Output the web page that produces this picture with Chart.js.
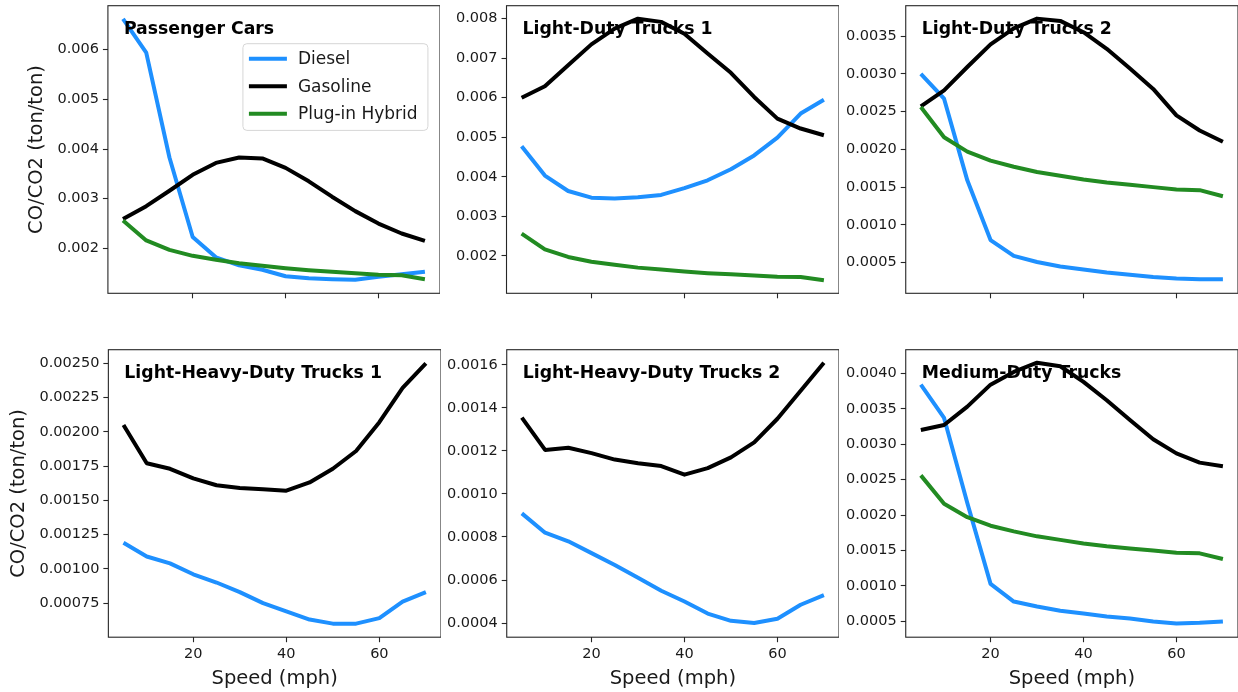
<!DOCTYPE html>
<html><head><meta charset="utf-8">
<script src="https://cdn.jsdelivr.net/npm/chart.js@4.4.1/dist/chart.umd.min.js"></script>
<style>
html,body{margin:0;padding:0;background:#fff;}
body{width:1238px;height:692px;position:relative;overflow:hidden;}
.pw{position:absolute;}
canvas{display:block;}
</style></head><body>
<script>
// ---------- data ----------
const speeds = [5,10,15,20,25,30,35,40,45,50,55,60,65,70];
const xTicks = [20,40,60];

const hybrid = [0.00256,0.00216,0.00197,0.00185,0.00177,0.00170,0.00165,0.00160,0.00156,0.00153,0.00150,0.00147,0.00146,0.00138];

const pcDiesel   = [0.00662,0.00594,0.00383,0.00223,0.00182,0.00166,0.00157,0.00144,0.00140,0.00138,0.00137,0.00143,0.00148,0.00153];
const pcGasoline = [0.00259,0.00285,0.00316,0.00348,0.00372,0.00383,0.00381,0.00362,0.00335,0.00304,0.00275,0.00250,0.00230,0.00215];

const ldt1Diesel   = [0.00477,0.00403,0.00364,0.00347,0.00345,0.00348,0.00354,0.00371,0.00391,0.00419,0.00454,0.00499,0.00560,0.00595];
const ldt1Gasoline = [0.00600,0.00629,0.00682,0.00735,0.00775,0.00800,0.00792,0.00762,0.00712,0.00663,0.00602,0.00547,0.00522,0.00505];

const ldt2Diesel   = [0.00300,0.00267,0.00159,0.00080,0.00059,0.00051,0.00045,0.00041,0.00037,0.00034,0.00031,0.00029,0.00028,0.00028];
const ldt2Gasoline = [0.00257,0.00278,0.00309,0.00339,0.00360,0.00373,0.00370,0.00355,0.00333,0.00307,0.00280,0.00245,0.00225,0.00210];

const lhdt1Diesel   = [0.00119,0.00109,0.00104,0.00096,0.00090,0.00083,0.00075,0.00069,0.00063,0.00060,0.00060,0.00064,0.00076,0.00083];
const lhdt1Gasoline = [0.00205,0.00177,0.00173,0.00166,0.00161,0.00159,0.00158,0.00157,0.00163,0.00173,0.00186,0.00207,0.00232,0.00250];

const lhdt2Diesel   = [0.00091,0.00082,0.00078,0.000725,0.00067,0.00061,0.00055,0.00050,0.000444,0.00041,0.00040,0.00042,0.000485,0.00053];
const lhdt2Gasoline = [0.001355,0.001205,0.001215,0.00119,0.00116,0.001143,0.00113,0.00109,0.00112,0.00117,0.00124,0.00135,0.00148,0.00161];

const mdtDiesel   = [0.00384,0.00337,0.00217,0.00103,0.00078,0.00071,0.00065,0.00061,0.00057,0.00054,0.00050,0.00047,0.00048,0.00050];
const mdtGasoline = [0.00320,0.00327,0.00353,0.00384,0.00402,0.00415,0.00410,0.00388,0.00362,0.00334,0.00307,0.00287,0.00274,0.00269];

const panelTitles = ['Passenger Cars','Light-Duty Trucks 1','Light-Duty Trucks 2','Light-Heavy-Duty Trucks 1','Light-Heavy-Duty Trucks 2','Medium-Duty Trucks'];

const yTicksPC    = [0.002,0.003,0.004,0.005,0.006];
const yTicksLDT1  = [0.002,0.003,0.004,0.005,0.006,0.007,0.008];
const yTicksLDT2  = [0.0005,0.0010,0.0015,0.0020,0.0025,0.0030,0.0035];
const yTicksLHDT1 = [0.00075,0.00100,0.00125,0.00150,0.00175,0.00200,0.00225,0.00250];
const yTicksLHDT2 = [0.0004,0.0006,0.0008,0.0010,0.0012,0.0014,0.0016];
const yTicksMDT   = [0.0005,0.0010,0.0015,0.0020,0.0025,0.0030,0.0035,0.0040];
const yDecimals   = [3,3,4,5,4,4];
const yMins = [0.001096,0.00105,0.000095,0.000501,0.000334,0.000277];
const yMaxs = [0.006884,0.008329,0.003901,0.002599,0.001671,0.004333];
const xRange = [1.75,73.25];

const seriesLabels = ['Diesel','Gasoline','Plug-in Hybrid'];
const seriesColors = ['#1E90FF','#000000','#228B22'];

// ---------- layout ----------
const FONT = "'DejaVu Sans', sans-serif";
const boxes = [
  {x:108.3,y:5.3,w:332.4,h:288},
  {x:506.8,y:5.3,w:332.4,h:288},
  {x:906.0,y:5.3,w:332.4,h:288},
  {x:108.3,y:349.7,w:332.4,h:287.8},
  {x:506.8,y:349.7,w:332.4,h:287.8},
  {x:906.0,y:349.7,w:332.4,h:287.8}
];

const panels = [
  {series:[pcDiesel,pcGasoline,hybrid], yTicks:yTicksPC},
  {series:[ldt1Diesel,ldt1Gasoline,hybrid], yTicks:yTicksLDT1},
  {series:[ldt2Diesel,ldt2Gasoline,hybrid], yTicks:yTicksLDT2},
  {series:[lhdt1Diesel,lhdt1Gasoline], yTicks:yTicksLHDT1},
  {series:[lhdt2Diesel,lhdt2Gasoline], yTicks:yTicksLHDT2},
  {series:[mdtDiesel,mdtGasoline,hybrid], yTicks:yTicksMDT}
];

const framePlugin = {
  id:'frame',
  afterDraw(chart){
    const {ctx, chartArea:a} = chart;
    ctx.save();
    ctx.strokeStyle = '#262626';
    ctx.lineWidth = 1.1;
    ctx.strokeRect(a.left, a.top, a.right-a.left, a.bottom-a.top);
    ctx.restore();
  }
};
const titlePlugin = {
  id:'panelTitle',
  afterDatasetsDraw(chart, args, opts){
    const {ctx, chartArea:a} = chart;
    ctx.save();
    ctx.font = 'bold 17.3px ' + FONT;
    ctx.fillStyle = '#000';
    ctx.textBaseline = 'alphabetic';
    ctx.textAlign = 'left';
    ctx.fillText(opts.text, a.left + 16.0, a.top + 28.7);
    ctx.restore();
  }
};
const legendPlugin = {
  id:'boxLegend',
  afterDraw(chart, args, opts){
    if(!opts.show) return;
    const {ctx, chartArea:a} = chart;
    const bx = a.left + 135, by = a.top + 38, bw = 185, bh = 86.7, r = 4;
    ctx.save();
    ctx.beginPath();
    ctx.moveTo(bx+r,by); ctx.lineTo(bx+bw-r,by); ctx.arcTo(bx+bw,by,bx+bw,by+r,r);
    ctx.lineTo(bx+bw,by+bh-r); ctx.arcTo(bx+bw,by+bh,bx+bw-r,by+bh,r);
    ctx.lineTo(bx+r,by+bh); ctx.arcTo(bx,by+bh,bx,by+bh-r,r);
    ctx.lineTo(bx,by+r); ctx.arcTo(bx,by,bx+r,by,r); ctx.closePath();
    ctx.fillStyle = 'rgba(255,255,255,0.85)';
    ctx.fill();
    ctx.strokeStyle = '#d6d6d6';
    ctx.lineWidth = 1;
    ctx.stroke();
    ctx.font = '17px ' + FONT;
    ctx.textBaseline = 'middle';
    ctx.textAlign = 'left';
    chart.data.datasets.forEach((ds,i)=>{
      const yy = a.top + 53 + i*27.5;
      ctx.strokeStyle = ds.borderColor;
      ctx.lineWidth = 4;
      ctx.lineCap = 'butt';
      ctx.beginPath(); ctx.moveTo(a.left+141, yy); ctx.lineTo(a.left+179, yy); ctx.stroke();
      ctx.fillStyle = '#1a1a1a';
      ctx.fillText(ds.label, a.left + 190, yy + 1);
    });
    ctx.restore();
  }
};

function config(i){
  const p = panels[i];
  const isLeft = (i % 3) === 0;
  const isBottom = i >= 3;
  const dec = yDecimals[i];
  return {
    type:'line',
    data:{
      datasets: p.series.map((vals,k)=>({
        label: seriesLabels[k],
        data: speeds.map((s,j)=>({x:s, y:vals[j]})),
        borderColor: seriesColors[k],
        backgroundColor: seriesColors[k],
        borderWidth: 4,
        pointRadius: 0,
        fill: false,
        tension: 0,
        borderJoinStyle: 'round',
        borderCapStyle: 'butt',
        order: 3 - k
      }))
    },
    options:{
      responsive:false, animation:false, events:[], devicePixelRatio:1,
      layout:{padding:0},
      plugins:{
        legend:{display:false}, tooltip:{enabled:false},
        panelTitle:{text: panelTitles[i]},
        boxLegend:{show: i === 0}
      },
      scales:{
        x:{
          type:'linear', min:xRange[0], max:xRange[1],
          afterBuildTicks: s => { s.ticks = xTicks.map(v=>({value:v})); },
          ticks:{display:isBottom, color:'#1a1a1a', font:{family:FONT,size:14.5}, padding:3, maxRotation:0, autoSkip:false,
                 callback: v => String(v)},
          grid:{display:true, drawOnChartArea:false, drawTicks:true, tickLength:5, tickWidth:1.1, tickColor:'#262626'},
          border:{display:false},
          title:{display:isBottom, text:'Speed (mph)', color:'#1a1a1a', font:{family:FONT,size:19.5}, padding:{top:2,bottom:1}}
        },
        y:{
          type:'linear', min:yMins[i], max:yMaxs[i],
          afterBuildTicks: s => { s.ticks = p.yTicks.map(v=>({value:v})); },
          ticks:{color:'#1a1a1a', font:{family:FONT,size:14.5}, padding:4, autoSkip:false,
                 callback: v => Number(v).toFixed(dec)},
          grid:{display:true, drawOnChartArea:false, drawTicks:true, tickLength:5, tickWidth:1.1, tickColor:'#262626'},
          border:{display:false},
          title:{display:isLeft, text:'CO/CO2 (ton/ton)', color:'#1a1a1a', font:{family:FONT,size:19.5}, padding:{top:2,bottom:5}}
        }
      }
    },
    plugins:[framePlugin, titlePlugin, legendPlugin]
  };
}

function build(i){
  const box = boxes[i];
  const wrap = document.createElement('div');
  wrap.className = 'pw';
  document.body.appendChild(wrap);
  let W = Math.round(box.w + 120), H = Math.round(box.h + 70);
  let canvas = document.createElement('canvas');
  canvas.width = W; canvas.height = H;
  canvas.style.width = W+'px'; canvas.style.height = H+'px';
  wrap.appendChild(canvas);
  let chart = new Chart(canvas, config(i));
  let a = chart.chartArea;
  const W2 = Math.round(W + (box.w - (a.right - a.left)));
  const H2 = Math.round(H + (box.h - (a.bottom - a.top)));
  chart.destroy();
  wrap.removeChild(canvas);
  canvas = document.createElement('canvas');
  canvas.width = W2; canvas.height = H2;
  canvas.style.width = W2+'px'; canvas.style.height = H2+'px';
  wrap.appendChild(canvas);
  chart = new Chart(canvas, config(i));
  a = chart.chartArea;
  wrap.style.left = Math.round(box.x - a.left) + 'px';
  wrap.style.top = Math.round(box.y - a.top) + 'px';
}
for (let i = 0; i < 6; i++) build(i);
</script>
</body></html>
